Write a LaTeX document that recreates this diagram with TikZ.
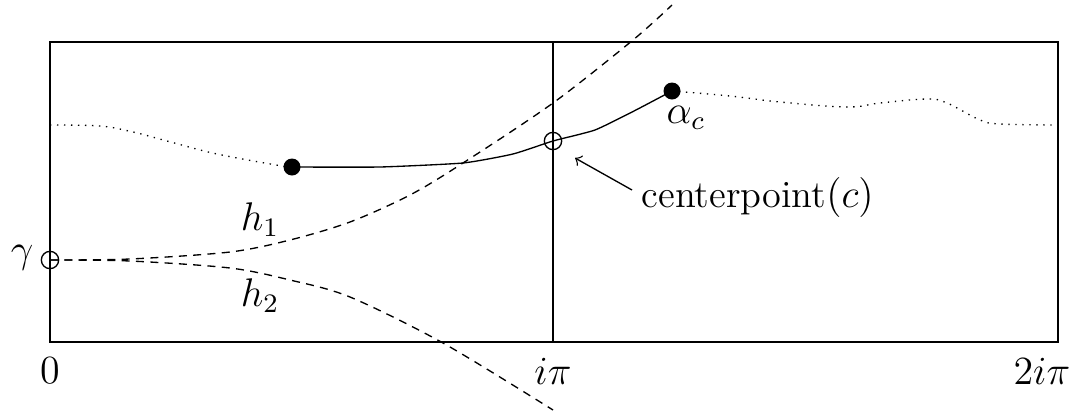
\documentclass[tikz,border=0pt]{standalone}
\usetikzlibrary{arrows}
\begin{document}
\begin{tikzpicture}[x=0.3pt,y=-0.3pt,
  every node/.style={font=\fontsize{11.5}{13}\selectfont},
  opendot/.style={circle,draw,inner sep=0pt,minimum size=5.2pt,line width=0.4pt},
  fulldot/.style={circle,fill=black,inner sep=0pt,minimum size=5.1pt},
  frame/.style={line width=0.45pt},
  hline/.style={line width=0.4pt,dash pattern=on 2.4pt off 1.9pt},
  dotline/.style={line width=0.4pt,dash pattern=on 0.4pt off 1.7pt},
  pathline/.style={line width=0.4pt}]
\useasboundingbox (0,0) rectangle (1084,412);
% frame
\draw[frame] (50,42) rectangle (1058,342);
\draw[frame] (553,42) -- (553,342);
% coordinates
\coordinate (hup) at (672,5);
\coordinate (hdown) at (553,410);
% h1 and h2
\draw[hline] plot[smooth,tension=0.5] coordinates {(50,260) (130,259) (230,252) (290,240) (350,222) (410,195) (463,163) (553,103) (633,40) (672,5)};
\draw[hline] plot[smooth,tension=0.5] coordinates {(50,260) (130,261) (230,268) (290,280) (350,297) (443,343) (553,410)};
% dotted curves
\draw[dotline] plot[smooth,tension=0.6] coordinates {(50,125) (100,126) (133,132) (167,141) (217,154) (282,166) (292,167)};
\draw[dotline] plot[smooth,tension=0.6] coordinates {(672,91) (730,96) (780,102) (847,107) (880,103) (927,99) (947,103) (980,120) (1000,124) (1058,125)};
% solid path
\draw[pathline] plot[smooth,tension=0.3] coordinates {(292,167) (380,167) (463,163) (513,154) (553,141) (595,130) (634,111) (672,91)};
% nodes
\node[opendot] (gamma) at (50,260) {};
\node[fulldot] (a) at (292,167) {};
\node[fulldot] (alpha) at (672,91) {};
\node[opendot] (cp) at (553,141) {};
\node (gl) at (22,258) {$\gamma$};
\node (al) at (686,118) {$\alpha_c$};
\node (h1) at (260,220) {$h_1$};
\node (h2) at (260,296) {$h_2$};
\node[anchor=west] (ctext) at (630,197) {centerpoint$(c)$};
\node (t0) at (50,371) {$0$};
\node (t1) at (553,371) {$i\pi$};
\node[anchor=east] (t2) at (1082,371) {$2i\pi$};
\draw[line width=0.4pt,-to] (632,190) -- (575,158);
\end{tikzpicture}
\end{document}
